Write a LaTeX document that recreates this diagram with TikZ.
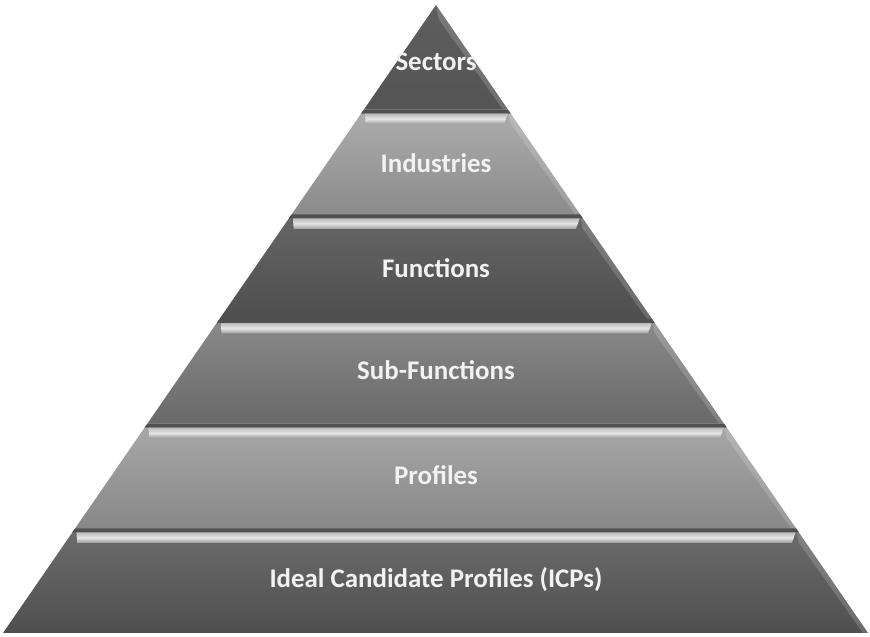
\documentclass[tikz,border=0pt]{standalone}
\usepackage{fontspec}
\setmainfont{Carlito}
\usepackage{tikz}
\usetikzlibrary{calc}

% layer shades, base to top
\definecolor{icpTop}{HTML}{6C6C6C}
\definecolor{icpBot}{HTML}{4F4F4F}
\definecolor{profTop}{HTML}{A8A8A8}
\definecolor{profBot}{HTML}{878787}
\definecolor{subTop}{HTML}{8A8A8A}
\definecolor{subBot}{HTML}{696969}
\definecolor{funcTop}{HTML}{666666}
\definecolor{funcBot}{HTML}{4E4E4E}
\definecolor{indTop}{HTML}{ADADAD}
\definecolor{indBot}{HTML}{8B8B8B}
\definecolor{secTop}{HTML}{5E5E5E}
\definecolor{secBot}{HTML}{545454}
% bevel strip
\definecolor{bevelHi}{HTML}{E6E6E6}
\definecolor{bevelTopC}{HTML}{BABABA}
\definecolor{bevelLo}{HTML}{9C9C9C}
\definecolor{seamLine}{HTML}{505050}

\begin{document}
\begin{tikzpicture}[x=1bp,y=1bp]
        \tikzstyle{every path}=[line join=round]
        \tikzstyle{layertext}=[text=white!95!black,font=\bfseries\fontsize{27}{30}\selectfont]
        \tikzstyle{bevel}=[top color=bevelTopC,bottom color=bevelLo,middle color=bevelHi]
        \tikzstyle{sideface}=[fill=white,fill opacity=0.16]

        \useasboundingbox (0,0) rectangle (870,637);

        %% Corners of the pyramid
        \coordinate (apex) at (436,632);
        \coordinate (baseL) at (3,4);
        \coordinate (baseR) at (868,4);

        %% Layers, from the base up
        \foreach \k/\ctop/\cbot in {0/icpTop/icpBot, 1/profTop/profBot,
                2/subTop/subBot, 3/funcTop/funcBot, 4/indTop/indBot, 5/secTop/secBot}{
            \pgfmathsetmacro\lo{\k/6}
            \pgfmathsetmacro\hi{(\k+1)/6}
            \pgfmathsetmacro\dn{(\k+1)/6-0.022}
            \shade[top color=\ctop,bottom color=\cbot]
                ($(baseL)!\lo!(apex)$) -- ($(baseR)!\lo!(apex)$)
                -- ($(baseR)!\hi!(apex)$) -- ($(baseL)!\hi!(apex)$) -- cycle;
            % lit right-hand face
            \fill[sideface]
                ($(baseR)!\hi!(apex)$) -- ($(baseR)!\lo!(apex)$)
                -- ($(baseR)!\lo!(apex) + (-5,0)$) -- ($(baseR)!\dn!(apex) + (-7,0)$) -- cycle;
        }

        %% Seam and bevel strip on top of each lower layer
        \foreach \k in {1,...,5}{
            \pgfmathsetmacro\hi{\k/6}
            \pgfmathsetmacro\up{\k/6-0.0064}
            \pgfmathsetmacro\dn{\k/6-0.023}
            \fill[seamLine]
                ($(baseL)!\hi!(apex)$) -- ($(baseR)!\hi!(apex)$)
                -- ($(baseR)!\up!(apex)$) -- ($(baseL)!\up!(apex)$) -- cycle;
            \shade[bevel]
                ($(baseL)!\up!(apex) + (4,0)$) -- ($(baseR)!\up!(apex) + (-3,0)$)
                -- ($(baseR)!\dn!(apex) + (-14,0)$) -- ($(baseL)!\dn!(apex) + (12,0)$) -- cycle;
        }

        %% Labels
        \node[layertext] (icp) at (436,57) {Ideal Candidate Profiles (ICPs)};
        \node[layertext] (profiles) at (436,162) {Profiles};
        \node[layertext] (subfunc) at (436,267) {Sub-Functions};
        \node[layertext] (func) at (436,369) {Functions};
        \node[layertext] (ind) at (436,474) {Industries};
        \node[layertext] (sectors) at (436,575) {Sectors};
\end{tikzpicture}
\end{document}
